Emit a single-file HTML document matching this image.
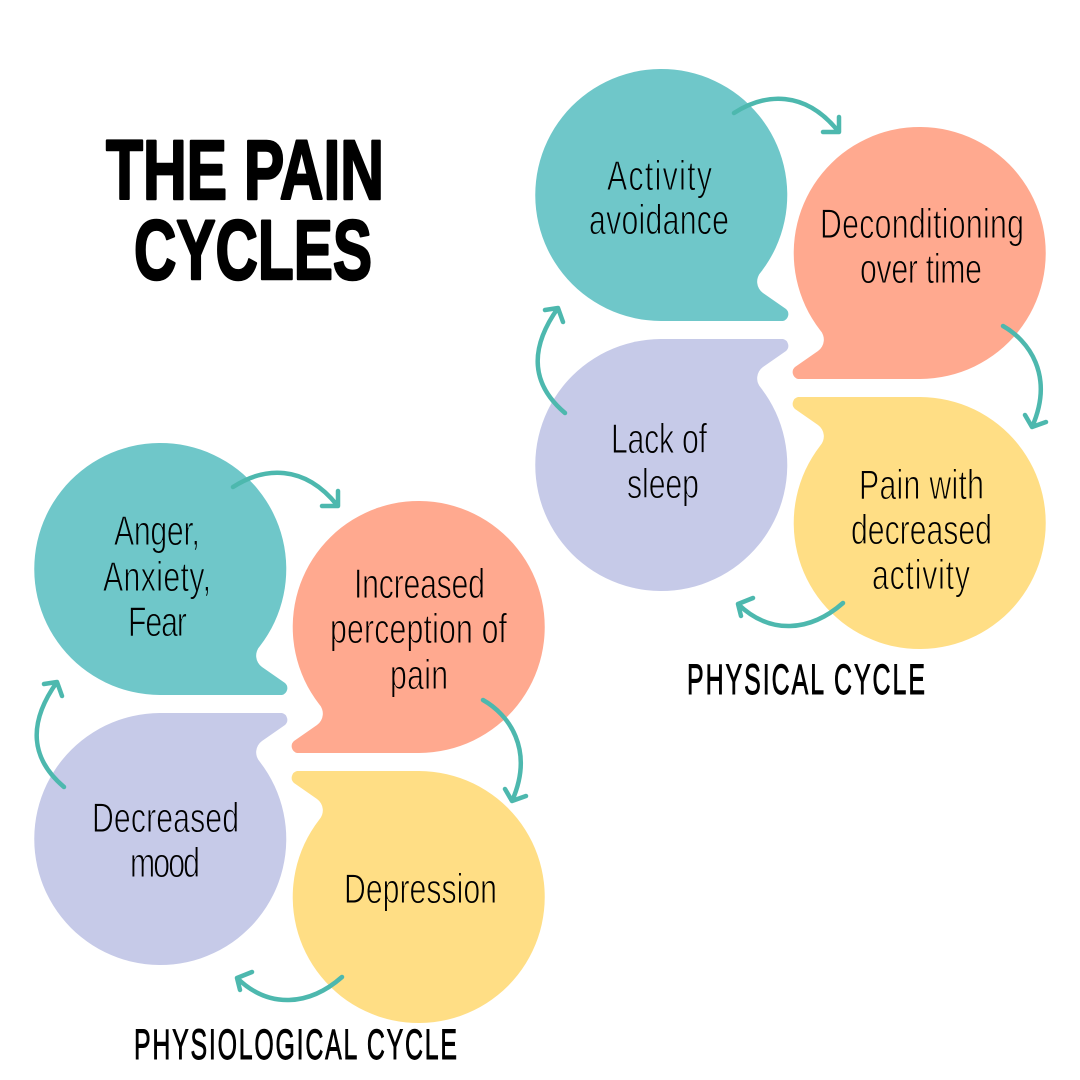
<!DOCTYPE html>
<html><head><meta charset="utf-8"><style>
html,body{margin:0;padding:0;background:#fff}
svg{display:block}
text{font-family:"Liberation Sans",sans-serif;fill:#000}
.b{font-size:42px;stroke-width:1px}
.tl{stroke:#6FC7C9}.or{stroke:#FFA98F}.ye{stroke:#FFDE85}.li{stroke:#C6CAE8}
.h{font-size:43px;stroke:#000;stroke-width:.9px}
.t{font-size:84px;font-weight:bold;stroke:#000;stroke-width:2.5px;stroke-linejoin:round}
.a{fill:none;stroke:#4DB8AE;stroke-width:4.5;stroke-linecap:round;stroke-linejoin:round}
</style></head><body>
<svg width="1080" height="1080" viewBox="0 0 1080 1080" xmlns="http://www.w3.org/2000/svg">
<rect width="1080" height="1080" fill="#fff"/>
<defs>
<path id="bub" d="M661 321A126 126 0 1 1 761 272A14 14 0 0 0 763 293L786 309A7 7 0 0 1 783 321Z"/>
<g id="cyc">
<use href="#bub" fill="#6FC7C9"/>
<use href="#bub" fill="#FFA98F" transform="translate(1581 58) scale(-1 1)"/>
<use href="#bub" fill="#FFDE85" transform="translate(1581 718) scale(-1 -1)"/>
<use href="#bub" fill="#C6CAE8" transform="translate(0 660) scale(1 -1)"/>
<path class="a" d="M734 113C765 93 805 90 838 131M839 117L839 132L823 132"/>
<path class="a" d="M843 603C810 632 770 635 738 604M753 598L738 604L741 616"/>
<path class="a" d="M565 413C532 385 528 350 558 308M545 310L558 308L563 322"/>
</g>
<path id="arr2" class="a" d="M1003 326C1028 340 1055 375 1032 427M1025 415L1032 427L1046 422"/>
</defs>
<use href="#cyc"/>
<use href="#arr2"/>
<use href="#cyc" transform="translate(-501 374)"/>
<use href="#arr2" transform="translate(-520 374)"/>

<text class="t" x="106" y="199" textLength="278" lengthAdjust="spacingAndGlyphs">THE PAIN</text>
<text class="t" x="134" y="279" textLength="238" lengthAdjust="spacingAndGlyphs">CYCLES</text>

<text class="b tl" transform="translate(607 190) scale(.72 1)" textLength="145.8">Activity</text>
<text class="b tl" transform="translate(589 234) scale(.72 1)" textLength="194.4">avoidance</text>
<text class="b or" transform="translate(820 238) scale(.72 1)" textLength="283.3">Deconditioning</text>
<text class="b or" transform="translate(860 283) scale(.72 1)" textLength="169.4">over time</text>
<text class="b ye" transform="translate(859 499) scale(.72 1)" textLength="173.6">Pain with</text>
<text class="b ye" transform="translate(851 544) scale(.72 1)" textLength="195.8">decreased</text>
<text class="b ye" transform="translate(872 589) scale(.72 1)" textLength="136.1">activity</text>
<text class="b li" transform="translate(611 453) scale(.72 1)" textLength="133.3">Lack of</text>
<text class="b li" transform="translate(627 498) scale(.72 1)" textLength="100">sleep</text>

<text class="b tl" transform="translate(114 545) scale(.72 1)" textLength="119.4">Anger,</text>
<text class="b tl" transform="translate(103 591) scale(.72 1)" textLength="150">Anxiety,</text>
<text class="b tl" transform="translate(128 636) scale(.72 1)" textLength="81.9">Fear</text>
<text class="b or" transform="translate(354 598) scale(.72 1)" textLength="181.9">Increased</text>
<text class="b or" transform="translate(330 643) scale(.72 1)" textLength="245.8">perception of</text>
<text class="b or" transform="translate(390 689) scale(.72 1)" textLength="80.6">pain</text>
<text class="b li" transform="translate(92 832) scale(.72 1)" textLength="204.2">Decreased</text>
<text class="b li" transform="translate(130 877) scale(.72 1)" textLength="97.2">mood</text>
<text class="b ye" transform="translate(344 903) scale(.72 1)" textLength="212.5">Depression</text>

<text class="h" transform="translate(687 694) scale(.58 1)" textLength="410.3">PHYSICAL CYCLE</text>
<text class="h" transform="translate(134 1059) scale(.58 1)" textLength="556.9">PHYSIOLOGICAL CYCLE</text>
</svg>
</body></html>
